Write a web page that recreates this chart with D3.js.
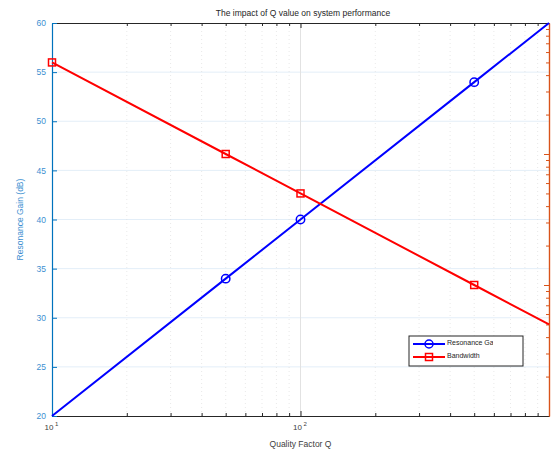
<!DOCTYPE html>
<html>
<head>
<meta charset="utf-8">
<title>Q value</title>
<script src="https://d3js.org/d3.v7.min.js"></script>
<style>
  body { margin: 0; background: #fff; }
  svg { font-family: "Liberation Sans", Arial, sans-serif; }
</style>
</head>
<body>
<svg id="chart" width="552" height="450"></svg>
<script>
// data
var qValues = [10, 50, 100, 500, 1000];
var gainValues = [20, 33.98, 40, 53.98, 60];
var bandwidthValues = [500, 100, 50, 10, 5];
var gainTicks = [20, 25, 30, 35, 40, 45, 50, 55, 60];
var seriesNames = ["Resonance Gain (dB)", "Bandwidth"];

var svg = d3.select("#chart");
var pLeft = 52, pRight = 549, pTop = 23, pBottom = 416;
var blue = "#0072BD", orange = "#D95319";

var x = d3.scaleLog().domain([10, 1000]).range([pLeft, pRight]);
var y = d3.scaleLinear().domain([20, 60]).range([pBottom, pTop]);
var y2 = d3.scaleLog().domain([1, 1000]).range([pBottom, pTop]);

// minor values for the log axes
function minors(decades) {
  var out = [];
  decades.forEach(function(d) {
    for (var i = 2; i <= 9; i++) out.push(d * i);
  });
  return out;
}
var minorX = minors([10, 100]);
var minorY2 = minors([1, 10, 100]);

// grid
var grid = svg.append("g");
grid.selectAll(".hgrid")
  .data(gainTicks.slice(1, -1))
  .enter().append("line")
    .attr("x1", pLeft).attr("x2", pRight)
    .attr("y1", function(d) { return y(d); })
    .attr("y2", function(d) { return y(d); })
    .attr("stroke", "#e3eef8").attr("stroke-width", 1);
grid.selectAll(".vminor")
  .data(minorX)
  .enter().append("line")
    .attr("x1", function(d) { return x(d); })
    .attr("x2", function(d) { return x(d); })
    .attr("y1", pTop).attr("y2", pBottom)
    .attr("stroke", "#dadada").attr("stroke-width", 0.6)
    .attr("stroke-dasharray", "1,3");
grid.append("line")
  .attr("x1", x(100)).attr("x2", x(100))
  .attr("y1", pTop).attr("y2", pBottom)
  .attr("stroke", "#e2e2e2").attr("stroke-width", 1);

// bottom and top axes
function boxAxis(axis, yPos) {
  var g = svg.append("g").attr("transform", "translate(0," + yPos + ")");
  g.call(axis(x).tickValues(minorX).tickSize(-3).tickSizeOuter(0).tickFormat(""));
  g.append("g")
    .call(axis(x).tickValues([100]).tickSize(-5).tickSizeOuter(0).tickFormat(""));
  g.selectAll(".domain").attr("stroke", "#262626").attr("stroke-width", 1.2);
  g.selectAll(".tick line").attr("stroke", "#262626").attr("stroke-width", 1);
}
boxAxis(d3.axisBottom, pBottom);
boxAxis(d3.axisTop, pTop);

// x tick labels with superscripts
var xLabels = svg.append("g");
[10, 100].forEach(function(d, i) {
  xLabels.append("text")
    .attr("x", x(d) - 3).attr("y", 430)
    .attr("text-anchor", "middle")
    .attr("font-size", 8).attr("fill", "#404040")
    .text("10");
  xLabels.append("text")
    .attr("x", x(d) + 3).attr("y", 426)
    .attr("font-size", 6).attr("fill", "#404040")
    .text(String(i + 1));
});
svg.append("text")
  .attr("x", (pLeft + pRight) / 2).attr("y", 447)
  .attr("text-anchor", "middle")
  .attr("font-size", 8.5).attr("fill", "#404040")
  .text("Quality Factor Q");

// left axis
var yAxis = svg.append("g").attr("transform", "translate(" + pLeft + ",0)")
  .call(d3.axisRight(y).tickValues(gainTicks).tickSize(5).tickSizeOuter(0).tickFormat(d3.format("d")));
yAxis.select(".domain").attr("stroke", blue).attr("stroke-width", 1.2);
yAxis.selectAll(".tick line").attr("stroke", blue);
yAxis.selectAll(".tick text")
  .attr("x", -6).attr("text-anchor", "end")
  .attr("font-size", 8.5).attr("fill", "#3d8fd1");
svg.append("text")
  .attr("transform", "translate(23," + ((pTop + pBottom) / 2) + ") rotate(-90)")
  .attr("text-anchor", "middle")
  .attr("font-size", 8.5).attr("fill", "#3d8fd1")
  .text("Resonance Gain (dB)");

// right axis (log, no labels)
var y2Axis = svg.append("g").attr("transform", "translate(" + pRight + ",0)");
y2Axis.call(d3.axisLeft(y2).tickValues(minorY2).tickSize(3).tickSizeOuter(0).tickFormat(""));
y2Axis.append("g")
  .call(d3.axisLeft(y2).tickValues([10, 100]).tickSize(5).tickSizeOuter(0).tickFormat(""));
y2Axis.selectAll(".domain").attr("stroke", orange).attr("stroke-width", 1.2);
y2Axis.selectAll(".tick line").attr("stroke", orange);

// title
svg.append("text")
  .attr("x", 303).attr("y", 16)
  .attr("text-anchor", "middle")
  .attr("font-size", 8.5).attr("fill", "#262626")
  .text("The impact of Q value on system performance");

// series
var gainLine = d3.line()
  .x(function(d, i) { return x(qValues[i]); })
  .y(function(d) { return y(d); });
var bwLine = d3.line()
  .x(function(d, i) { return x(qValues[i]); })
  .y(function(d) { return y2(d); });

svg.append("path")
  .datum(gainValues)
  .attr("d", gainLine)
  .attr("fill", "none").attr("stroke", "#0000ff").attr("stroke-width", 2);
svg.append("path")
  .datum(bandwidthValues)
  .attr("d", bwLine)
  .attr("fill", "none").attr("stroke", "#ff0000").attr("stroke-width", 2);

svg.selectAll(".gainMarker")
  .data(gainValues.slice(1, 4))
  .enter().append("circle")
    .attr("cx", function(d, i) { return x(qValues[i + 1]); })
    .attr("cy", function(d) { return y(d); })
    .attr("r", 4.2)
    .attr("fill", "none").attr("stroke", "#0000ff").attr("stroke-width", 1.5);
svg.selectAll(".bwMarker")
  .data(bandwidthValues.slice(0, 4))
  .enter().append("rect")
    .attr("x", function(d, i) { return x(qValues[i]) - 3.5; })
    .attr("y", function(d) { return y2(d) - 3.5; })
    .attr("width", 7).attr("height", 7)
    .attr("fill", "none").attr("stroke", "#ff0000").attr("stroke-width", 1.5);

// legend
var legend = svg.append("g").attr("transform", "translate(409,336)");
legend.append("clipPath").attr("id", "legClip")
  .append("rect").attr("width", 84).attr("height", 30);
legend.append("rect")
  .attr("width", 114).attr("height", 30)
  .attr("fill", "#fff").attr("stroke", "#262626").attr("stroke-width", 1);
var colours = ["#0000ff", "#ff0000"];
seriesNames.forEach(function(name, i) {
  var yy = 8 + i * 13;
  legend.append("line")
    .attr("x1", 4).attr("x2", 36).attr("y1", yy).attr("y2", yy)
    .attr("stroke", colours[i]).attr("stroke-width", 2);
  if (i === 0) {
    legend.append("circle").attr("cx", 20).attr("cy", yy).attr("r", 4)
      .attr("fill", "none").attr("stroke", colours[i]).attr("stroke-width", 1.5);
  } else {
    legend.append("rect").attr("x", 16.5).attr("y", yy - 3.5)
      .attr("width", 7).attr("height", 7)
      .attr("fill", "none").attr("stroke", colours[i]).attr("stroke-width", 1.5);
  }
  legend.append("text")
    .attr("x", 38).attr("y", yy + 0.5)
    .attr("font-size", 7).attr("fill", "#262626")
    .attr("clip-path", "url(#legClip)")
    .text(name);
});
</script>
</body>
</html>
